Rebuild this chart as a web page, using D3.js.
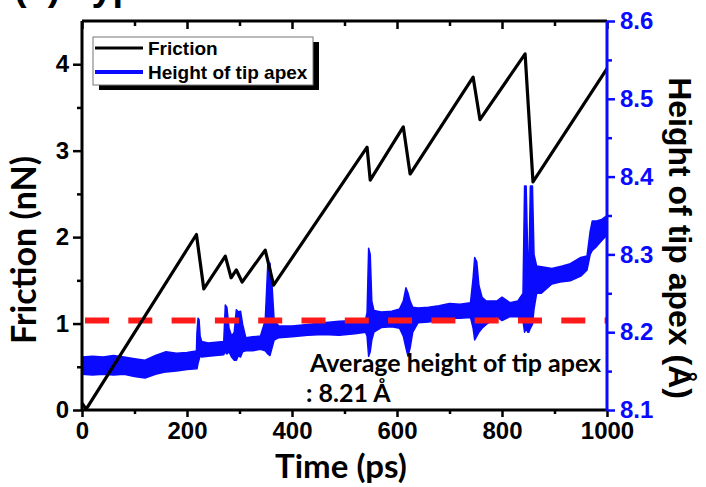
<!DOCTYPE html>
<html><head><meta charset="utf-8">
<script src="https://cdn.jsdelivr.net/npm/d3@7/dist/d3.min.js"></script>
<style>
html,body{margin:0;padding:0;background:#fff;}
svg{display:block;}
</style></head>
<body>
<script>
// ---- data ----
const timeTicks = [0, 200, 400, 600, 800, 1000];
const timeMinorTicks = [100, 300, 500, 700, 900];
const frictionTicks = [0, 1, 2, 3, 4];
const frictionMinorTicks = [0.5, 1.5, 2.5, 3.5];
const heightTicks = [8.1, 8.2, 8.3, 8.4, 8.5, 8.6];
const heightMinorTicks = [8.15, 8.25, 8.35, 8.45, 8.55];

const frictionTime  = [0, 8, 218, 232, 273, 284, 294, 305, 349, 365, 543, 549, 612, 625, 745, 758, 844, 859, 1000];
const frictionValue = [0.08, 0.01, 2.03, 1.40, 1.78, 1.53, 1.62, 1.48, 1.85, 1.445, 3.04, 2.66, 3.275, 2.73, 3.85, 3.36, 4.12, 2.64, 3.95];

// height of tip apex: lower / upper edge of the noisy trace
const heightTime = [0, 20, 40, 60, 80, 100, 120, 140, 160, 180, 200, 218,
  219, 221, 223, 225, 228, 240, 255, 270,
  273, 276, 280, 285, 290, 294, 298, 302, 306, 312, 325, 340,
  349, 354, 358, 362, 366, 375, 400, 430, 460, 490, 520, 540,
  543, 546, 549, 552, 556, 570, 590, 605,
  612, 617, 621, 625, 630, 640, 660, 680, 700, 720, 740,
  745, 748, 752, 756, 762, 770, 790, 800, 815, 830, 840,
  843, 846, 849, 851, 854, 858, 861, 866, 875, 895, 915, 930, 950, 962,
  968, 972, 980, 990, 1000];
const heightLow = [8.146, 8.145, 8.146, 8.145, 8.146, 8.143, 8.141, 8.146, 8.149, 8.150, 8.152, 8.153,
  8.153, 8.160, 8.165, 8.170, 8.168, 8.169, 8.170, 8.171,
  8.175, 8.172, 8.175, 8.168, 8.164, 8.164, 8.170, 8.168, 8.175, 8.176, 8.176, 8.178,
  8.176, 8.172, 8.170, 8.180, 8.190, 8.193, 8.194, 8.196, 8.197, 8.196, 8.198, 8.200,
  8.195, 8.169, 8.175, 8.190, 8.200, 8.206, 8.207, 8.205,
  8.195, 8.180, 8.169, 8.180, 8.200, 8.212, 8.213, 8.215, 8.218, 8.218, 8.219,
  8.205, 8.190, 8.195, 8.200, 8.205, 8.210, 8.220, 8.215, 8.220, 8.220, 8.215,
  8.200, 8.205, 8.200, 8.200, 8.205, 8.210, 8.230, 8.250, 8.250, 8.262, 8.265, 8.266, 8.272, 8.280,
  8.300, 8.305, 8.310, 8.318, 8.325];
const heightHigh = [8.168, 8.169, 8.168, 8.170, 8.168, 8.166, 8.164, 8.170, 8.175, 8.173, 8.174, 8.176,
  8.200, 8.218, 8.216, 8.195, 8.188, 8.186, 8.187, 8.188,
  8.235, 8.232, 8.205, 8.195, 8.200, 8.229, 8.226, 8.227, 8.210, 8.193, 8.194, 8.195,
  8.215, 8.289, 8.289, 8.260, 8.215, 8.208, 8.208, 8.210, 8.212, 8.214, 8.215, 8.216,
  8.225, 8.308, 8.300, 8.240, 8.228, 8.226, 8.227, 8.230,
  8.240, 8.257, 8.250, 8.240, 8.232, 8.231, 8.232, 8.234, 8.237, 8.236, 8.238,
  8.270, 8.296, 8.290, 8.260, 8.245, 8.240, 8.240, 8.245, 8.238, 8.240, 8.250,
  8.388, 8.388, 8.300, 8.270, 8.388, 8.388, 8.300, 8.285, 8.284, 8.282, 8.285, 8.288, 8.296, 8.298,
  8.330, 8.343, 8.343, 8.345, 8.350];

const averageHeight = 8.215;
const seriesNames = ["Friction", "Height of tip apex"];

// ---- drawing ----
const W = 706, H = 487;
const svg = d3.select("body").append("svg").attr("width", W).attr("height", H);

const x = d3.scaleLinear().domain([0, 1000]).range([82, 607]);
const yF = d3.scaleLinear().domain([0, 4.5]).range([410, 21]);
const yH = d3.scaleLinear().domain([8.1, 8.6]).range([410, 21]);

const BLUE = "#0a0aff";
const tickFont = "'Liberation Sans', Arial, sans-serif";
const calFont = "Lato, 'Open Sans', sans-serif";

// partial panel title at the top edge
svg.append("text").attr("x", 14).attr("y", 0)
  .attr("font-family", tickFont).attr("font-weight", "bold").attr("font-size", 38)
  .text("(a) Typical");

// height band
const hData = heightTime.map((t, i) => ({t, lo: heightLow[i], hi: heightHigh[i]}));
svg.append("path").datum(hData)
  .attr("d", d3.area().x(d => x(d.t)).y0(d => yH(d.lo)).y1(d => yH(d.hi)))
  .attr("fill", BLUE).attr("stroke", BLUE).attr("stroke-width", 1.5).attr("stroke-linejoin", "round");

// average line
svg.append("line")
  .attr("x1", x(0) + 3).attr("x2", x(1000)).attr("y1", yH(averageHeight)).attr("y2", yH(averageHeight))
  .attr("stroke", "#ff1a1a").attr("stroke-width", 6).attr("stroke-dasharray", "24 19.3");

// friction
const fData = frictionTime.map((t, i) => ({t, v: frictionValue[i]}));
svg.append("path").datum(fData)
  .attr("d", d3.line().x(d => x(d.t)).y(d => yF(d.v)))
  .attr("fill", "none").attr("stroke", "#000").attr("stroke-width", 3.2).attr("stroke-linejoin", "round");

// axes
function styleAxis(g, color, fontSize) {
  g.select(".domain").remove();
  g.selectAll("line").attr("stroke", color).attr("stroke-width", 2.5);
  g.selectAll("text").attr("fill", color).attr("font-family", tickFont)
    .attr("font-weight", "bold").attr("font-size", fontSize);
}
const TF = 24;
// bottom
svg.append("g").attr("transform", "translate(0,410)")
  .call(d3.axisBottom(x).tickValues(timeTicks).tickSize(7).tickPadding(5).tickFormat(d3.format("d")))
  .call(g => styleAxis(g, "#000", TF));
svg.append("g").attr("transform", "translate(0,410)")
  .call(d3.axisBottom(x).tickValues(timeMinorTicks).tickSize(4).tickFormat(""))
  .call(g => styleAxis(g, "#000", TF));
// top (inward)
svg.append("g").attr("transform", "translate(0,21)")
  .call(d3.axisBottom(x).tickValues(timeTicks).tickSize(8).tickFormat(""))
  .call(g => styleAxis(g, "#000", TF));
svg.append("g").attr("transform", "translate(0,21)")
  .call(d3.axisBottom(x).tickValues(timeMinorTicks).tickSize(5).tickFormat(""))
  .call(g => styleAxis(g, "#000", TF));
// left
svg.append("g").attr("transform", "translate(82,0)")
  .call(d3.axisLeft(yF).tickValues(frictionTicks).tickSize(9).tickPadding(4).tickFormat(d3.format("d")))
  .call(g => styleAxis(g, "#000", TF));
svg.append("g").attr("transform", "translate(82,0)")
  .call(d3.axisLeft(yF).tickValues(frictionMinorTicks).tickSize(5).tickFormat(""))
  .call(g => styleAxis(g, "#000", TF));
// right
svg.append("g").attr("transform", "translate(607,0)")
  .call(d3.axisRight(yH).tickValues(heightTicks).tickSize(8).tickPadding(5).tickFormat(d3.format(".1f")))
  .call(g => styleAxis(g, BLUE, TF));
svg.append("g").attr("transform", "translate(607,0)")
  .call(d3.axisRight(yH).tickValues(heightMinorTicks).tickSize(5).tickFormat(""))
  .call(g => styleAxis(g, BLUE, TF));

// frame lines
svg.append("line").attr("x1", 82).attr("x2", 607).attr("y1", 410).attr("y2", 410).attr("stroke", "#000").attr("stroke-width", 3);
svg.append("line").attr("x1", 82).attr("x2", 607).attr("y1", 21).attr("y2", 21).attr("stroke", "#000").attr("stroke-width", 3);
svg.append("line").attr("x1", 82).attr("x2", 82).attr("y1", 21).attr("y2", 410).attr("stroke", "#000").attr("stroke-width", 3);
svg.append("line").attr("x1", 607).attr("x2", 607).attr("y1", 21).attr("y2", 411).attr("stroke", BLUE).attr("stroke-width", 3);

// axis titles
svg.append("text").attr("x", 341).attr("y", 478).attr("text-anchor", "middle")
  .attr("font-family", calFont).attr("font-weight", "bold").attr("font-size", 33).attr("fill", "#000")
  .text("Time (ps)");
svg.append("text").attr("transform", "translate(36,250) rotate(-90)").attr("text-anchor", "middle")
  .attr("font-family", calFont).attr("font-weight", "bold").attr("font-size", 34).attr("fill", "#000")
  .text("Friction (nN)");
svg.append("text").attr("transform", "translate(669,238) rotate(90)").attr("text-anchor", "middle")
  .attr("font-family", tickFont).attr("font-weight", "bold").attr("font-size", 32).attr("fill", "#000")
  .text("Height of tip apex (Å)");

// annotation
svg.append("text").attr("x", 310).attr("y", 372)
  .attr("font-family", calFont).attr("font-weight", "bold").attr("font-size", 25).attr("fill", "#000")
  .text("Average height of tip apex");
svg.append("text").attr("x", 306).attr("y", 402)
  .attr("font-family", calFont).attr("font-weight", "bold").attr("font-size", 25).attr("fill", "#000")
  .text(": 8.21 Å");

// legend
const lg = svg.append("g");
lg.append("rect").attr("x", 99).attr("y", 42).attr("width", 220).attr("height", 48).attr("fill", "#000");
lg.append("rect").attr("x", 93).attr("y", 37).attr("width", 220).attr("height", 48)
  .attr("fill", "#fff").attr("stroke", "#777").attr("stroke-width", 1);
const legColors = ["#000", BLUE];
seriesNames.forEach((name, i) => {
  const yy = 48 + i * 24;
  lg.append("line").attr("x1", 95).attr("x2", 143).attr("y1", yy).attr("y2", yy)
    .attr("stroke", legColors[i]).attr("stroke-width", i === 0 ? 3 : 4);
  lg.append("text").attr("x", 148).attr("y", yy + 7)
    .attr("font-family", tickFont).attr("font-weight", "bold").attr("font-size", 19).attr("fill", "#000")
    .text(name);
});
</script>
</body></html>
